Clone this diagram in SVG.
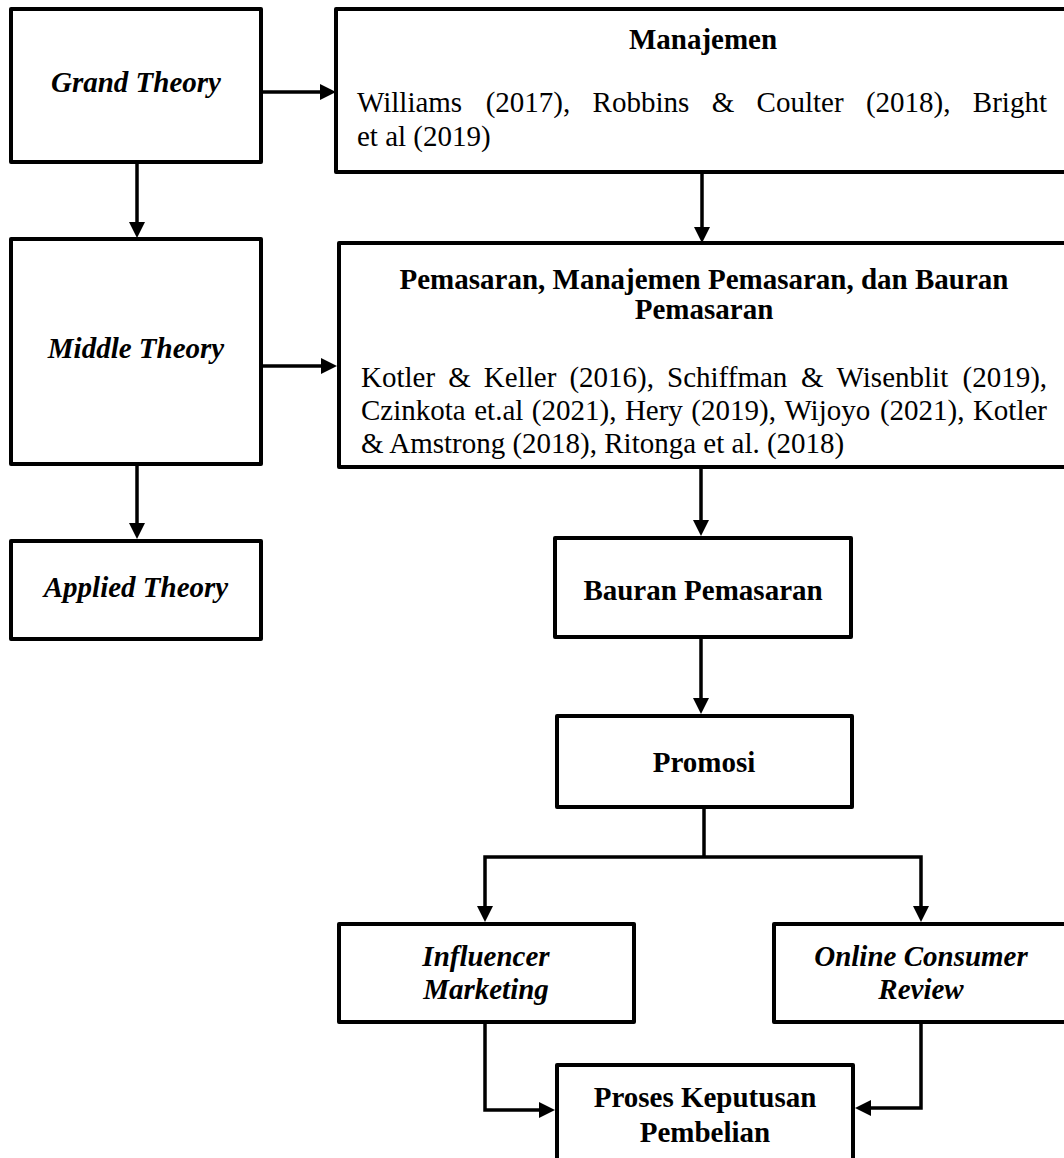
<svg xmlns="http://www.w3.org/2000/svg" width="1064" height="1158" viewBox="0 0 1064 1158">
<style>
.box{fill:#fff;stroke:#000;stroke-width:4;stroke-linejoin:round}
.t{font-family:"Liberation Serif","Times New Roman",serif;font-size:29px;fill:#000}
.b{font-weight:bold}
.bi{font-weight:bold;font-style:italic}
.c{text-anchor:middle}
.ln{fill:none;stroke:#000;stroke-width:3.5}
</style>
<defs>
<marker id="arr" markerUnits="userSpaceOnUse" markerWidth="16" markerHeight="16" refX="6" refY="8" orient="auto" overflow="visible">
<path d="M0,0 L16,8 L0,16 Z" fill="#000"/>
</marker>
</defs>
<rect width="1064" height="1158" fill="#fff"/>
<g id="grand">
<rect class="box" x="11" y="9" width="250" height="153"/>
<text class="t bi c" x="136" y="92">Grand Theory</text>
</g>
<g id="manajemen">
<rect class="box" x="336" y="9" width="740" height="163"/>
<text class="t b c" x="703" y="49">Manajemen</text>
<text class="t"><tspan x="357" y="112">Williams</tspan><tspan x="485.7" y="112">(2017),</tspan><tspan x="592.62" y="112">Robbins</tspan><tspan x="711.67" y="112">&amp;</tspan><tspan x="756.59" y="112">Coulter</tspan><tspan x="865.95" y="112">(2018),</tspan><tspan x="972.87" y="112">Bright</tspan></text>
<text class="t" x="357" y="146">et al (2019)</text>
</g>
<g id="middle">
<rect class="box" x="11" y="239" width="250" height="225"/>
<text class="t bi c" x="136" y="358">Middle Theory</text>
</g>
<g id="pemasaran">
<rect class="box" x="339" y="243" width="740" height="224"/>
<text class="t b c" x="704" y="289">Pemasaran, Manajemen Pemasaran, dan Bauran</text>
<text class="t b c" x="704" y="319">Pemasaran</text>
<text class="t"><tspan x="361" y="387">Kotler</tspan><tspan x="448.19" y="387">&amp;</tspan><tspan x="483.84" y="387">Keller</tspan><tspan x="569.4" y="387">(2016),</tspan><tspan x="667.05" y="387">Schiffman</tspan><tspan x="800.95" y="387">&amp;</tspan><tspan x="836.6" y="387">Wisenblit</tspan><tspan x="962.47" y="387">(2019),</tspan></text>
<text class="t"><tspan x="361" y="420">Czinkota</tspan><tspan x="474.21" y="420">et.al</tspan><tspan x="531.83" y="420">(2021),</tspan><tspan x="624.88" y="420">Hery</tspan><tspan x="691.34" y="420">(2019),</tspan><tspan x="784.39" y="420">Wijoyo</tspan><tspan x="879.88" y="420">(2021),</tspan><tspan x="972.93" y="420">Kotler</tspan></text>
<text class="t" x="361" y="453">&amp; Amstrong (2018), Ritonga et al. (2018)</text>
</g>
<g id="applied">
<rect class="box" x="11" y="541" width="250" height="98"/>
<text class="t bi c" x="136" y="597">Applied Theory</text>
</g>
<g id="bauran">
<rect class="box" x="555" y="538" width="296" height="99"/>
<text class="t b c" x="703" y="600">Bauran Pemasaran</text>
</g>
<g id="promosi">
<rect class="box" x="557" y="716" width="295" height="91"/>
<text class="t b c" x="704" y="772">Promosi</text>
</g>
<g id="influencer">
<rect class="box" x="339" y="924" width="295" height="98"/>
<text class="t bi c" x="486" y="966">Influencer</text>
<text class="t bi c" x="486" y="999">Marketing</text>
</g>
<g id="online">
<rect class="box" x="774" y="924" width="300" height="98"/>
<text class="t bi c" x="921" y="966">Online Consumer</text>
<text class="t bi c" x="921" y="999">Review</text>
</g>
<g id="proses">
<rect class="box" x="557" y="1065" width="296" height="110"/>
<text class="t b c" x="705" y="1107">Proses Keputusan</text>
<text class="t b c" x="705" y="1142">Pembelian</text>
</g>
<g id="connectors">
<path class="ln" d="M263,92 H326" marker-end="url(#arr)"/>
<path class="ln" d="M137,162 V228" marker-end="url(#arr)"/>
<path class="ln" d="M702,172 V233" marker-end="url(#arr)"/>
<path class="ln" d="M263,366 H327" marker-end="url(#arr)"/>
<path class="ln" d="M137,464 V529" marker-end="url(#arr)"/>
<path class="ln" d="M701,467 V526" marker-end="url(#arr)"/>
<path class="ln" d="M701,637 V704" marker-end="url(#arr)"/>
<path class="ln" d="M704,807 V857"/>
<path class="ln" d="M704,857 H485 V912" marker-end="url(#arr)"/>
<path class="ln" d="M704,857 H921 V912" marker-end="url(#arr)"/>
<path class="ln" d="M485,1022 V1110 H545" marker-end="url(#arr)"/>
<path class="ln" d="M921,1022 V1108 H865" marker-end="url(#arr)"/>
</g>
</svg>
